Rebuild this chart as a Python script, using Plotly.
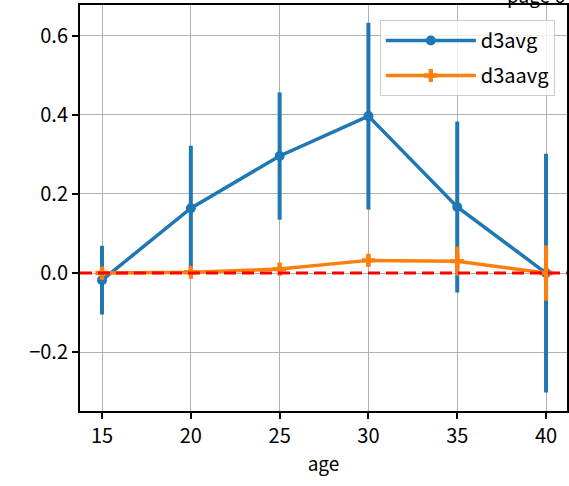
import plotly.graph_objects as go

ages = [15, 20, 25, 30, 35, 40]
d3avg = [-0.018, 0.164, 0.296, 0.397, 0.167, 0.0]
d3avg_err = [0.087, 0.158, 0.161, 0.236, 0.216, 0.302]
d3aavg = [0.0, 0.002, 0.010, 0.032, 0.030, 0.0]
d3aavg_err = [0.004, 0.004, 0.008, 0.012, 0.037, 0.070]

blue = "#1f77b4"
orange = "#ff7f0e"
font_family = "Noto Sans CJK JP"

fig = go.Figure()
fig.add_trace(go.Scatter(
    x=ages, y=d3avg, name="d3avg", mode="lines+markers", legendgroup="a",
    line=dict(color=blue, width=3.5),
    marker=dict(symbol="circle", size=10, color=blue),
    error_y=dict(type="data", array=d3avg_err, visible=True, width=0, thickness=4, color=blue),
))
fig.add_trace(go.Scatter(
    x=ages, y=d3aavg, name="d3aavg", mode="lines+markers", legendgroup="b",
    line=dict(color=orange, width=3.5),
    marker=dict(symbol="cross", size=11, color=orange),
    error_y=dict(type="data", array=d3aavg_err, visible=True, width=0, thickness=4, color=orange),
))

fig.add_shape(type="line", xref="x domain", yref="y", x0=0, x1=1, y0=0, y1=0,
              line=dict(color="red", width=3, dash="12px,6px"), layer="above")

fig.add_annotation(text="page 6", xref="paper", yref="paper", x=0.872, y=1,
                   xanchor="left", yanchor="bottom", yshift=-5, showarrow=False,
                   font=dict(family=font_family, size=19, color="black"))

axis_common = dict(
    showgrid=True, gridcolor="#b0b0b0", gridwidth=1.2,
    showline=True, linecolor="black", linewidth=2, mirror=True,
    ticks="outside", ticklen=6, tickwidth=1.5, tickcolor="black",
    tickfont=dict(family=font_family, size=20, color="black"),
    zeroline=False,
)

fig.update_xaxes(range=[13.76, 41.18], tickvals=ages,
                 title=dict(text="age", font=dict(family=font_family, size=19, color="black"), standoff=10),
                 **axis_common)
fig.update_yaxes(range=[-0.349, 0.678], tickvals=[-0.2, 0.0, 0.2, 0.4, 0.6],
                 ticktext=["−0.2", "0.0", "0.2", "0.4", "0.6"], **axis_common)

fig.update_layout(
    width=569, height=486,
    margin=dict(l=80, r=2, t=5, b=75, autoexpand=False),
    paper_bgcolor="white", plot_bgcolor="white",
    font=dict(family=font_family, color="black"),
    legend=dict(x=0.975, y=0.963, xanchor="right", yanchor="top",
                bgcolor="rgba(255,255,255,0.8)", bordercolor="#cccccc", borderwidth=1,
                font=dict(family=font_family, size=20, color="black"),
                itemwidth=90, tracegroupgap=6),
    showlegend=True,
)

fig.write_html("out.html", config={"displayModeBar": False},
               post_script="document.body.style.margin='0';")
